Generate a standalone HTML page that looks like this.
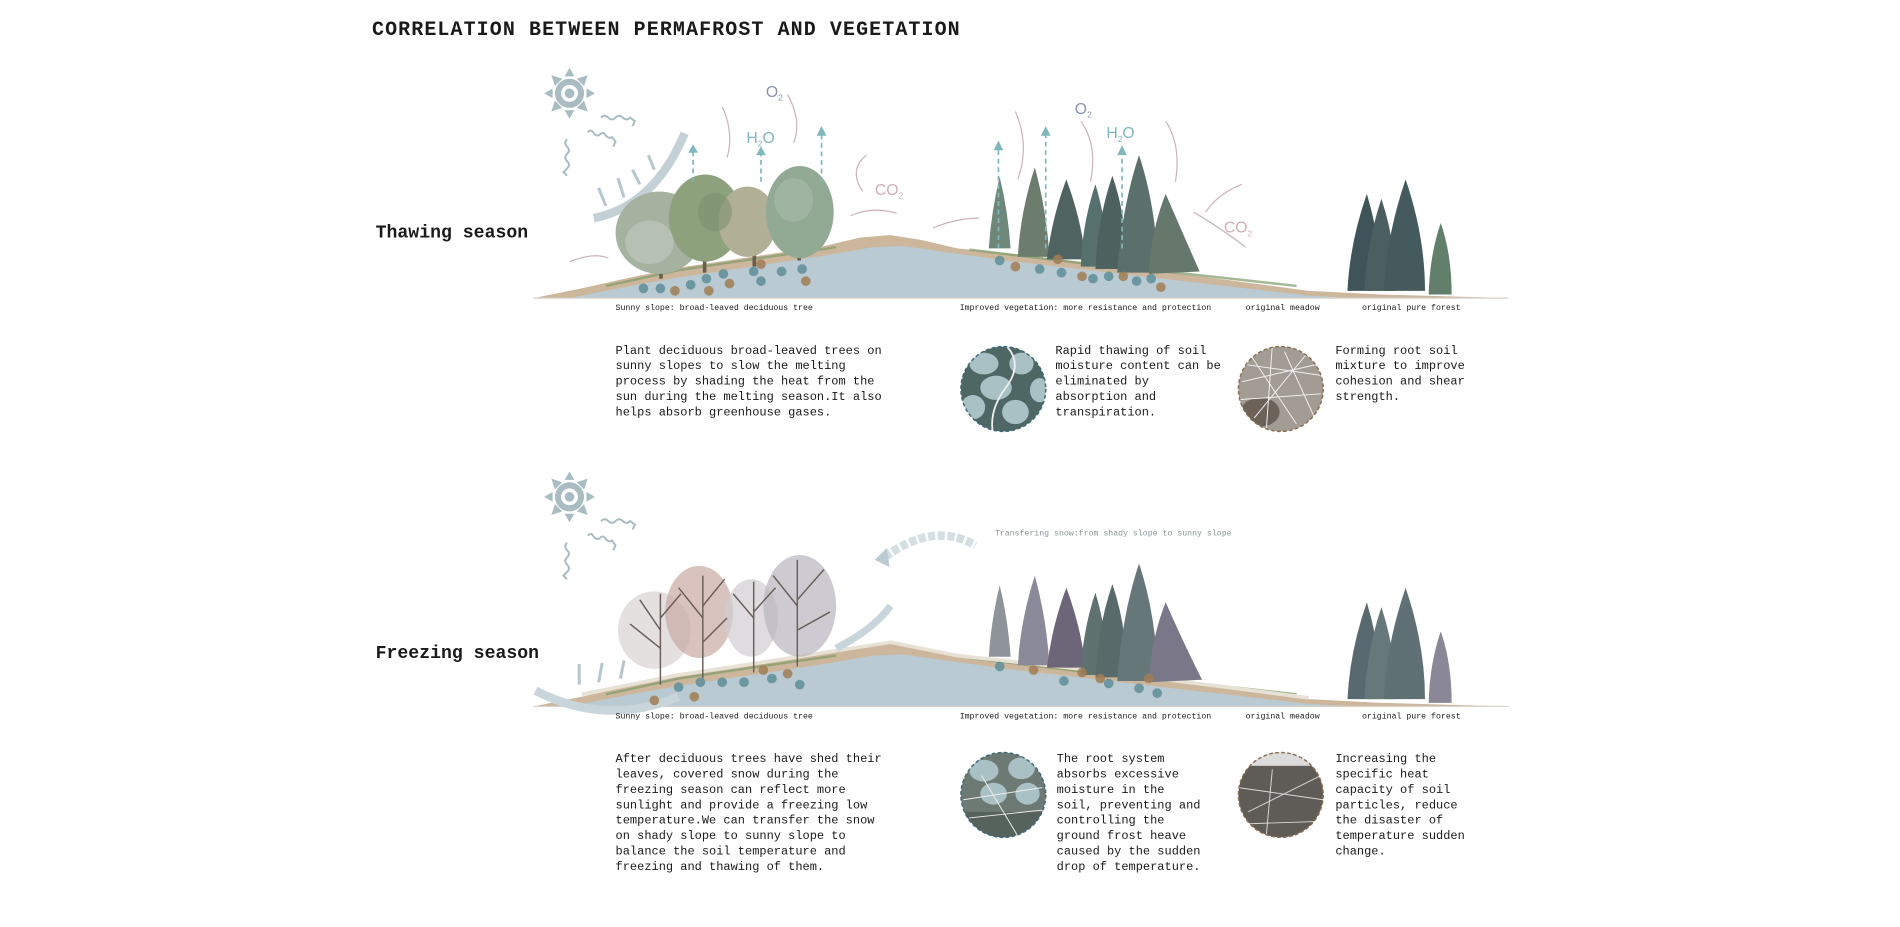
<!DOCTYPE html>
<html><head><meta charset="utf-8"><style>
html,body{margin:0;padding:0;background:#fff;width:1900px;height:927px;overflow:hidden}
svg{display:block}
.m{font-family:"Liberation Mono","DejaVu Sans Mono",monospace;fill:#1a1a1a}
</style></head><body>
<svg width="1900" height="927" viewBox="0 0 1568 765" xmlns="http://www.w3.org/2000/svg">
<defs>
<g id="ground">
  <path d="M440,246 L480,238 L520,229 L560,221 L620,212 L680,203 L710,196 L735,194 L760,198 L790,205 L830,209 L900,217 L960,224 L1020,232 L1080,240 L1140,243 L1245,246 Z" fill="#cdb79c"/>
  <path d="M470,246 L520,236 L560,229 L620,220 L680,211 L720,204 L745,203 L780,208 L830,215 L900,223 L960,230 L1020,237 L1080,244 L1120,246 Z" fill="#b9cad3"/>
  <path d="M500,236 L560,223 L620,214 L690,204" stroke="#7f9a6a" stroke-width="2" fill="none" opacity=".7"/>
  <path d="M800,206 L900,218 L980,226 L1070,236" stroke="#7f9a6a" stroke-width="2" fill="none" opacity=".7"/>
  <line x1="440" y1="246" x2="1245" y2="246" stroke="#d9d2c8" stroke-width="1"/>
</g>
<g id="sun">
  <circle r="12" fill="#a8bcc1"/>
  <circle r="7" fill="#fff"/>
  <circle r="4" fill="#a8bcc1"/>
  <g fill="#a8bcc1">
   <polygon points="-4,-14 4,-14 0,-21"/><polygon points="-4,14 4,14 0,21"/>
   <polygon points="-14,-4 -14,4 -21,0"/><polygon points="14,-4 14,4 21,0"/>
   <polygon points="-12,-6 -6,-12 -15,-15"/><polygon points="12,-6 6,-12 15,-15"/>
   <polygon points="-12,6 -6,12 -15,15"/><polygon points="12,6 6,12 15,15"/>
  </g>
</g>
<g id="waves" stroke="#a8bcc1" stroke-width="1.6" fill="none">
  <path d="M28,20 q3,-3 6,0 q3,3 6,0 q3,-3 6,0 q3,3 6,0 l4,3 l-2,4"/>
  <path d="M17,32 q3,-3 5,1 q3,3 5,1 q3,-3 5,1 q3,3 5,1 l3,4 l-2,4"/>
  <path d="M0,38 q-3,3 0,6 q3,3 0,6 q-3,3 0,6 q3,3 0,6 l-3,3 l3,3"/>
</g>
</defs>

<text x="307" y="29" class="m" font-size="16.5" font-weight="bold" letter-spacing="0.9">CORRELATION BETWEEN PERMAFROST AND VEGETATION</text>

<!-- ============ THAWING ============ -->
<text x="310" y="196" class="m" font-size="15" font-weight="bold">Thawing season</text>
<use href="#sun" x="470" y="77"/>
<use href="#waves" x="468" y="77"/>
<path d="M490,180 Q540,170 565,110" stroke="#c3d1d6" stroke-width="7" fill="none"/>
<g stroke="#b6c7cd" stroke-width="2.5" fill="none">
 <path d="M500,170 L494,155"/><path d="M515,163 L510,147"/><path d="M528,152 L522,140"/><path d="M540,140 L535,128"/>
</g>
<use href="#ground"/>
<g>
 <rect x="544" y="190" width="3" height="40" fill="#6a5e4c"/>
 <rect x="580" y="185" width="3" height="40" fill="#6a5e4c"/>
 <rect x="621" y="180" width="3" height="40" fill="#6a5e4c"/>
 <rect x="658" y="175" width="3" height="40" fill="#6a5e4c"/>
 <ellipse cx="544" cy="192" rx="36" ry="34" fill="#a5b2a0"/>
 <ellipse cx="582" cy="180" rx="30" ry="36" fill="#8ea17d"/>
 <ellipse cx="617" cy="183" rx="24" ry="29" fill="#b1af96"/>
 <ellipse cx="660" cy="175" rx="28" ry="38" fill="#92aa94"/>
 <ellipse cx="536" cy="200" rx="20" ry="18" fill="#c2cbc1" opacity=".6"/>
 <ellipse cx="590" cy="175" rx="14" ry="16" fill="#7d9170" opacity=".6"/>
 <ellipse cx="655" cy="165" rx="16" ry="18" fill="#a8bcac" opacity=".6"/>
</g>
<g>
 <path d="M825,146 Q818,175 816,205 L834,205 Q832,175 825,146Z" fill="#6f8778"/>
 <path d="M854,138 Q842,175 840,212 L866,212 Q864,175 854,138Z" fill="#6c7d6d"/>
 <path d="M880,148 Q868,180 864,214 L896,214 Q892,180 880,148Z" fill="#4f6360"/>
 <path d="M904,152 Q893,185 892,220 L914,220 Q914,185 904,152Z" fill="#56706e"/>
 <path d="M918,145 Q906,180 904,222 L930,222 Q930,180 918,145Z" fill="#4d625e"/>
 <path d="M940,128 Q926,170 922,225 L956,225 Q954,170 940,128Z" fill="#5b6f6b"/>
 <path d="M962,160 Q950,190 948,226 L990,224 Q975,190 962,160Z" fill="#66786c"/>
 <path d="M1128,160 Q1114,200 1112,240 L1140,240 Q1140,200 1128,160Z" fill="#3f5459"/>
 <path d="M1140,164 Q1128,200 1126,240 L1152,240 Q1152,200 1140,164Z" fill="#4b5f61"/>
 <path d="M1160,148 Q1144,195 1142,240 L1176,240 Q1176,195 1160,148Z" fill="#455a5c"/>
 <path d="M1189,184 Q1180,210 1179,243 L1198,243 Q1198,210 1189,184Z" fill="#627f6c"/>
</g>
<g fill="#5f8f99" opacity=".85">
 <circle cx="531" cy="238" r="4"/><circle cx="545" cy="238" r="4"/><circle cx="570" cy="235" r="4"/><circle cx="583" cy="230" r="4"/><circle cx="597" cy="226" r="4"/>
 <circle cx="628" cy="232" r="4"/><circle cx="645" cy="224" r="4"/><circle cx="662" cy="222" r="4"/><circle cx="622" cy="224" r="4"/>
 <circle cx="825" cy="215" r="4"/><circle cx="858" cy="222" r="4"/><circle cx="876" cy="225" r="4"/><circle cx="902" cy="230" r="4"/><circle cx="915" cy="228" r="4"/><circle cx="938" cy="232" r="4"/><circle cx="950" cy="230" r="4"/>
</g>
<g fill="#a17e55" opacity=".85">
 <circle cx="557" cy="240" r="4"/><circle cx="585" cy="240" r="4"/><circle cx="602" cy="234" r="4"/><circle cx="628" cy="218" r="4"/><circle cx="665" cy="232" r="4"/>
 <circle cx="838" cy="220" r="4"/><circle cx="873" cy="214" r="4"/><circle cx="893" cy="228" r="4"/><circle cx="927" cy="228" r="4"/><circle cx="958" cy="237" r="4"/>
</g>
<g stroke="#7fb7bd" stroke-width="1.4" stroke-dasharray="4,3" fill="#7fb7bd">
 <line x1="572" y1="150" x2="572" y2="124"/><line x1="628" y1="150" x2="628" y2="126"/><line x1="678" y1="150" x2="678" y2="110"/>
 <line x1="824" y1="205" x2="824" y2="122"/><line x1="863" y1="205" x2="863" y2="110"/><line x1="926" y1="205" x2="926" y2="126"/>
</g>
<g fill="#7fb7bd">
 <polygon points="568,126 576,126 572,119"/><polygon points="624,128 632,128 628,121"/><polygon points="674,112 682,112 678,104"/>
 <polygon points="820,124 828,124 824,116"/><polygon points="859,112 867,112 863,104"/><polygon points="922,128 930,128 926,120"/>
</g>
<g stroke="#c9b4bd" stroke-width="1" fill="none">
 <path d="M600,130 Q606,110 596,88"/><path d="M655,118 Q662,100 650,78"/><path d="M712,158 Q700,140 715,128"/><path d="M702,178 Q720,170 740,176"/>
 <path d="M840,148 Q850,120 838,92"/><path d="M900,150 Q906,120 892,100"/><path d="M970,150 Q975,120 962,100"/><path d="M995,175 Q1005,160 1025,152"/><path d="M985,175 Q1010,190 1028,204"/>
 <path d="M770,188 Q790,180 808,180"/><path d="M470,216 Q490,208 502,213"/>
</g>
<text x="632" y="80" font-family="Liberation Sans,sans-serif" font-size="13" fill="#8795ad">O<tspan font-size="7" dy="3">2</tspan></text>
<text x="887" y="94" font-family="Liberation Sans,sans-serif" font-size="13" fill="#8795ad">O<tspan font-size="7" dy="3">2</tspan></text>
<text x="616" y="118" font-family="Liberation Sans,sans-serif" font-size="13" fill="#7fb7bd">H<tspan font-size="7" dy="3">2</tspan><tspan dy="-3">O</tspan></text>
<text x="913" y="114" font-family="Liberation Sans,sans-serif" font-size="13" fill="#7fb7bd">H<tspan font-size="7" dy="3">2</tspan><tspan dy="-3">O</tspan></text>
<text x="722" y="161" font-family="Liberation Sans,sans-serif" font-size="13" fill="#d2aeb5">CO<tspan font-size="7" dy="3">2</tspan></text>
<text x="1010" y="192" font-family="Liberation Sans,sans-serif" font-size="13" fill="#d2aeb5">CO<tspan font-size="7" dy="3">2</tspan></text>

<g class="m" font-size="6.8">
 <text x="508" y="256">Sunny slope: broad-leaved deciduous tree</text>
 <text x="792" y="256">Improved vegetation: more resistance and protection</text>
 <text x="1028" y="256">original meadow</text>
 <text x="1124" y="256">original pure forest</text>
</g>
<g class="m" font-size="9.9">
 <text x="508" y="292">Plant deciduous broad-leaved trees on</text>
 <text x="508" y="304.7">sunny slopes to slow the melting</text>
 <text x="508" y="317.4">process by shading the heat from the</text>
 <text x="508" y="330.1">sun during the melting season.It also</text>
 <text x="508" y="342.8">helps absorb greenhouse gases.</text>
 <text x="871" y="292">Rapid thawing of soil</text>
 <text x="871" y="304.7">moisture content can be</text>
 <text x="871" y="317.4">eliminated by</text>
 <text x="871" y="330.1">absorption and</text>
 <text x="871" y="342.8">transpiration.</text>
 <text x="1102" y="292">Forming root soil</text>
 <text x="1102" y="304.7">mixture to improve</text>
 <text x="1102" y="317.4">cohesion and shear</text>
 <text x="1102" y="330.1">strength.</text>
</g>
<clipPath id="c1"><circle cx="828" cy="321" r="35"/></clipPath>
<g clip-path="url(#c1)">
 <rect x="790" y="283" width="80" height="80" fill="#4e6664"/>
 <ellipse cx="812" cy="300" rx="12" ry="9" fill="#a9c0c5"/><ellipse cx="843" cy="300" rx="10" ry="9" fill="#a9c0c5"/>
 <ellipse cx="822" cy="320" rx="13" ry="10" fill="#a9c0c5"/><ellipse cx="803" cy="336" rx="10" ry="10" fill="#a9c0c5"/>
 <ellipse cx="838" cy="340" rx="11" ry="10" fill="#a9c0c5"/><ellipse cx="858" cy="322" rx="8" ry="10" fill="#a9c0c5"/>
 <path d="M830,285 Q845,300 830,320 Q815,340 820,360" stroke="#eee" stroke-width="1.5" fill="none"/>
</g>
<circle cx="828" cy="321" r="35" fill="none" stroke="#3e6a78" stroke-width="1.2" stroke-dasharray="3,2"/>
<clipPath id="c2"><circle cx="1057" cy="321" r="35"/></clipPath>
<g clip-path="url(#c2)">
 <rect x="1020" y="283" width="80" height="80" fill="#a39c94"/>
 <ellipse cx="1040" cy="340" rx="16" ry="12" fill="#6c6259"/>
 <g stroke="#f1f1f1" stroke-width=".8" fill="none">
  <path d="M1022,300 L1092,310"/><path d="M1025,315 L1090,300"/><path d="M1030,290 L1070,350"/><path d="M1050,285 L1045,355"/><path d="M1020,330 L1090,325"/><path d="M1060,290 L1085,345"/><path d="M1035,345 L1080,290"/>
 </g>
</g>
<circle cx="1057" cy="321" r="35" fill="none" stroke="#8a6e4e" stroke-width="1.2" stroke-dasharray="3,2"/>

<!-- ============ FREEZING ============ -->
<text x="310" y="543" class="m" font-size="15" font-weight="bold">Freezing season</text>
<use href="#sun" x="470" y="410"/>
<use href="#waves" x="468" y="410"/>
<path d="M730,460 Q770,430 805,450" stroke="#d3dfe2" stroke-width="7" fill="none" stroke-dasharray="6,2"/>
<polygon points="722,462 732,452 734,468" fill="#b9cbd0"/>
<text x="821" y="442" font-family="Liberation Mono,monospace" font-size="6.8" fill="#8a9499">Transfering snow:from shady slope to sunny slope</text>
<g transform="translate(0,337)">
 <use href="#ground"/>
 <path d="M480,236 L560,220 L620,211 L690,200 L735,193 L790,204 L900,216 L1020,231 L1080,239" stroke="#e8e2d6" stroke-width="3" fill="none"/>
</g>
<path d="M442,570 Q500,600 560,575" stroke="#c8d6db" stroke-width="7" fill="none"/>
<path d="M690,535 Q720,520 735,500" stroke="#c8d6db" stroke-width="6" fill="none"/>
<g stroke="#b6c7cd" stroke-width="2.5" fill="none">
 <path d="M478,565 L478,548"/><path d="M494,563 L497,547"/><path d="M512,560 L515,545"/>
</g>
<g stroke-width="1.2" fill="none">
 <ellipse cx="540" cy="520" rx="30" ry="32" fill="#d8d3d3" stroke="none" opacity=".7"/>
 <ellipse cx="577" cy="505" rx="28" ry="38" fill="#c7a9a2" stroke="none" opacity=".7"/>
 <ellipse cx="620" cy="510" rx="22" ry="32" fill="#d0cdd0" stroke="none" opacity=".7"/>
 <ellipse cx="660" cy="500" rx="30" ry="42" fill="#b9b3bf" stroke="none" opacity=".7"/>
 <g stroke="#6a5e58">
  <path d="M545,565 L545,490 M545,520 L528,495 M545,510 L562,490 M545,535 L520,515"/>
  <path d="M580,560 L580,475 M580,510 L560,485 M580,500 L598,478 M580,530 L600,510"/>
  <path d="M622,555 L622,480 M622,510 L605,490 M622,505 L640,485"/>
  <path d="M658,550 L658,462 M658,500 L638,475 M658,495 L680,470 M658,520 L685,505"/>
 </g>
</g>
<g>
 <path d="M825,483 Q818,512 816,542 L834,542 Q832,512 825,483Z" fill="#8f939a"/>
 <path d="M854,475 Q842,512 840,549 L866,549 Q864,512 854,475Z" fill="#8a8a99"/>
 <path d="M880,485 Q868,517 864,551 L896,551 Q892,517 880,485Z" fill="#6c6678"/>
 <path d="M904,489 Q893,522 892,557 L914,557 Q914,522 904,489Z" fill="#5f7270"/>
 <path d="M918,482 Q906,517 904,559 L930,559 Q930,517 918,482Z" fill="#586b6a"/>
 <path d="M940,465 Q926,507 922,562 L956,562 Q954,507 940,465Z" fill="#66777a"/>
 <path d="M962,497 Q950,527 948,563 L992,561 Q975,527 962,497Z" fill="#7a7888"/>
 <path d="M1128,497 Q1114,537 1112,577 L1140,577 Q1140,537 1128,497Z" fill="#586a70"/>
 <path d="M1140,501 Q1128,537 1126,577 L1152,577 Q1152,537 1140,501Z" fill="#667879"/>
 <path d="M1160,485 Q1144,532 1142,577 L1176,577 Q1176,532 1160,485Z" fill="#5f7174"/>
 <path d="M1189,521 Q1180,547 1179,580 L1198,580 Q1198,547 1189,521Z" fill="#8a8797"/>
</g>
<g fill="#5f8f99" opacity=".85">
 <circle cx="560" cy="567" r="4"/><circle cx="578" cy="563" r="4"/><circle cx="596" cy="563" r="4"/><circle cx="614" cy="563" r="4"/><circle cx="637" cy="560" r="4"/><circle cx="660" cy="565" r="4"/>
 <circle cx="825" cy="550" r="4"/><circle cx="878" cy="562" r="4"/><circle cx="915" cy="564" r="4"/><circle cx="940" cy="568" r="4"/><circle cx="955" cy="572" r="4"/>
</g>
<g fill="#a17e55" opacity=".85">
 <circle cx="540" cy="578" r="4"/><circle cx="573" cy="575" r="4"/><circle cx="630" cy="553" r="4"/><circle cx="650" cy="556" r="4"/>
 <circle cx="853" cy="553" r="4"/><circle cx="893" cy="555" r="4"/><circle cx="908" cy="560" r="4"/><circle cx="948" cy="560" r="4"/>
</g>

<g class="m" font-size="6.8">
 <text x="508" y="593">Sunny slope: broad-leaved deciduous tree</text>
 <text x="792" y="593">Improved vegetation: more resistance and protection</text>
 <text x="1028" y="593">original meadow</text>
 <text x="1124" y="593">original pure forest</text>
</g>
<g class="m" font-size="9.9">
 <text x="508" y="629">After deciduous trees have shed their</text>
 <text x="508" y="641.7">leaves, covered snow during the</text>
 <text x="508" y="654.4">freezing season can reflect more</text>
 <text x="508" y="667.1">sunlight and provide a freezing low</text>
 <text x="508" y="679.8">temperature.We can transfer the snow</text>
 <text x="508" y="692.5">on shady slope to sunny slope to</text>
 <text x="508" y="705.2">balance the soil temperature and</text>
 <text x="508" y="717.9">freezing and thawing of them.</text>
 <text x="872" y="629">The root system</text>
 <text x="872" y="641.7">absorbs excessive</text>
 <text x="872" y="654.4">moisture in the</text>
 <text x="872" y="667.1">soil, preventing and</text>
 <text x="872" y="679.8">controlling the</text>
 <text x="872" y="692.5">ground frost heave</text>
 <text x="872" y="705.2">caused by the sudden</text>
 <text x="872" y="717.9">drop of temperature.</text>
 <text x="1102" y="629">Increasing the</text>
 <text x="1102" y="641.7">specific heat</text>
 <text x="1102" y="654.4">capacity of soil</text>
 <text x="1102" y="667.1">particles, reduce</text>
 <text x="1102" y="679.8">the disaster of</text>
 <text x="1102" y="692.5">temperature sudden</text>
 <text x="1102" y="705.2">change.</text>
</g>
<clipPath id="c3"><circle cx="828" cy="656" r="35"/></clipPath>
<g clip-path="url(#c3)">
 <rect x="790" y="618" width="80" height="80" fill="#6d7a74"/>
 <ellipse cx="812" cy="636" rx="12" ry="9" fill="#a9c0c5"/><ellipse cx="843" cy="634" rx="11" ry="9" fill="#a9c0c5"/>
 <ellipse cx="820" cy="655" rx="11" ry="9" fill="#a9c0c5"/><ellipse cx="848" cy="655" rx="10" ry="9" fill="#a9c0c5"/>
 <rect x="790" y="670" width="80" height="30" fill="#56625c"/>
 <g stroke="#eee" stroke-width=".8" fill="none"><path d="M795,660 L860,650"/><path d="M800,675 L865,668"/><path d="M810,640 L840,690"/></g>
</g>
<circle cx="828" cy="656" r="35" fill="none" stroke="#3e6a78" stroke-width="1.2" stroke-dasharray="3,2"/>
<clipPath id="c4"><circle cx="1057" cy="656" r="35"/></clipPath>
<g clip-path="url(#c4)">
 <rect x="1020" y="618" width="80" height="80" fill="#5f5c57"/>
 <rect x="1020" y="618" width="80" height="14" fill="#dcdcdc"/>
 <g stroke="#d8d8d8" stroke-width=".8" fill="none"><path d="M1022,650 L1092,660"/><path d="M1030,670 L1090,640"/><path d="M1050,635 L1045,690"/><path d="M1025,680 L1085,678"/></g>
</g>
<circle cx="1057" cy="656" r="35" fill="none" stroke="#8a6e4e" stroke-width="1.2" stroke-dasharray="3,2"/>
</svg>
</body></html>
